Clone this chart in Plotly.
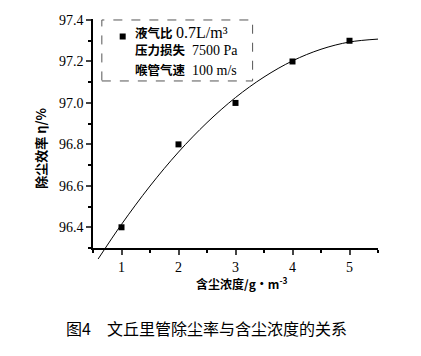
import plotly.graph_objects as go

# measured points
conc = [1, 2, 3, 4, 5]
eff = [96.4, 96.8, 97.0, 97.2, 97.3]

# fitted curve
curve_x = [0.59, 1.0, 1.5, 2.0, 2.5, 3.0, 3.5, 4.0, 4.5, 5.0, 5.5]
curve_y = [96.247, 96.414, 96.599, 96.763, 96.905, 97.026, 97.125, 97.203, 97.259, 97.294, 97.308]

x_ticks = [1, 2, 3, 4, 5]
y_ticks = [96.4, 96.6, 96.8, 97.0, 97.2, 97.4]

CN = "<b><span style='font-size:12.5px'>%s</span></b>"
legend_lines = [CN % "液气比" + " <span style='font-size:16px'>0.7L/m³</span>",
                CN % "压力损失" + "  7500 Pa",
                CN % "喉管气速" + "  100 m/s"]

FONT = "Liberation Serif, Noto Sans CJK SC, serif"
CJK = "Noto Sans CJK SC, sans-serif"

fig = go.Figure()

fig.add_trace(go.Scatter(
    x=curve_x, y=curve_y, mode="lines", line=dict(color="black", width=1, shape="spline"),
    xaxis="x2", yaxis="y2", showlegend=False, hoverinfo="skip"))

fig.add_trace(go.Scatter(
    x=conc, y=eff, mode="markers", name=" ",
    marker=dict(symbol="square", size=6, color="black"), cliponaxis=False))

ydom0 = 14 / 243
yr = [96.3, 97.405]
span = yr[1] - yr[0]
ext = span / (1 - ydom0)

fig.update_layout(
    width=405, height=340,
    margin=dict(l=85, r=35, t=11, b=86, autoexpand=False),
    paper_bgcolor="white", plot_bgcolor="rgba(0,0,0,0)",
    font=dict(family=FONT, size=14, color="black"),
    xaxis=dict(range=[0.5, 5.5], tickvals=x_ticks, ticks="outside", ticklen=5, tickwidth=1.5,
               showline=True, linecolor="black", linewidth=1.5, showgrid=False, zeroline=False,
               anchor="y", automargin=False, tickfont=dict(size=14, family=FONT),
               minor=dict(dtick=0.5, tick0=0.5, ticks="outside", ticklen=3, tickcolor="black")),
    yaxis=dict(range=yr, domain=[ydom0, 1], tickvals=y_ticks, tickformat=".1f", ticks="outside",
               ticklen=5, tickwidth=1.5, showline=True, linecolor="black", linewidth=1.5,
               showgrid=False, zeroline=False, automargin=False, tickfont=dict(size=14, family=FONT),
               minor=dict(dtick=0.1, tick0=96.3, ticks="outside", ticklen=3, tickcolor="black")),
    xaxis2=dict(range=[0.5, 5.5], domain=[0, 1], anchor="y2", visible=False, automargin=False),
    yaxis2=dict(range=[yr[1] - ext, yr[1]], domain=[0, 1], anchor="x2", visible=False, automargin=False),
    legend=dict(x=0.034, y=0.99, xanchor="left", yanchor="top", bgcolor="rgba(0,0,0,0)",
                font=dict(size=13, family=FONT), itemwidth=30),
    showlegend=True,
)

fig.add_shape(type="rect", xref="paper", yref="paper", x0=0.031, x1=0.56, y0=0.745, y1=0.996,
              line=dict(color="#555", width=1, dash="dash"))

line_y = [33, 51, 70]
for txt, py in zip(legend_lines, line_y):
    fig.add_annotation(text=txt, xref="paper", yref="paper", x=(133 - 93.3) / 284.7,
                       y=(262 - py) / 243, xanchor="left", yanchor="middle", showarrow=False,
                       font=dict(size=14, family=FONT))

fig.add_annotation(text="<b>除尘效率 η/%</b>", xref="paper", yref="paper", x=(40 - 93.3) / 284.7,
                   y=(262 - 148) / 243, xanchor="center", yanchor="middle",
                   textangle=-90, showarrow=False, font=dict(size=13, family=CJK))
fig.add_annotation(text="<b>含尘浓度/g·m<sup>-3</sup></b>", xref="paper", yref="paper",
                   x=(242 - 93.3) / 284.7, y=(262 - 283) / 243,
                   showarrow=False, font=dict(size=12, family=CJK), xanchor="center", yanchor="middle")
fig.add_annotation(text="图4　文丘里管除尘率与含尘浓度的关系", xref="paper", yref="paper",
                   x=(207 - 93.3) / 284.7, y=(262 - 328) / 243,
                   showarrow=False, font=dict(size=16, family=CJK), xanchor="center", yanchor="middle")

fig.write_html("out.html")
